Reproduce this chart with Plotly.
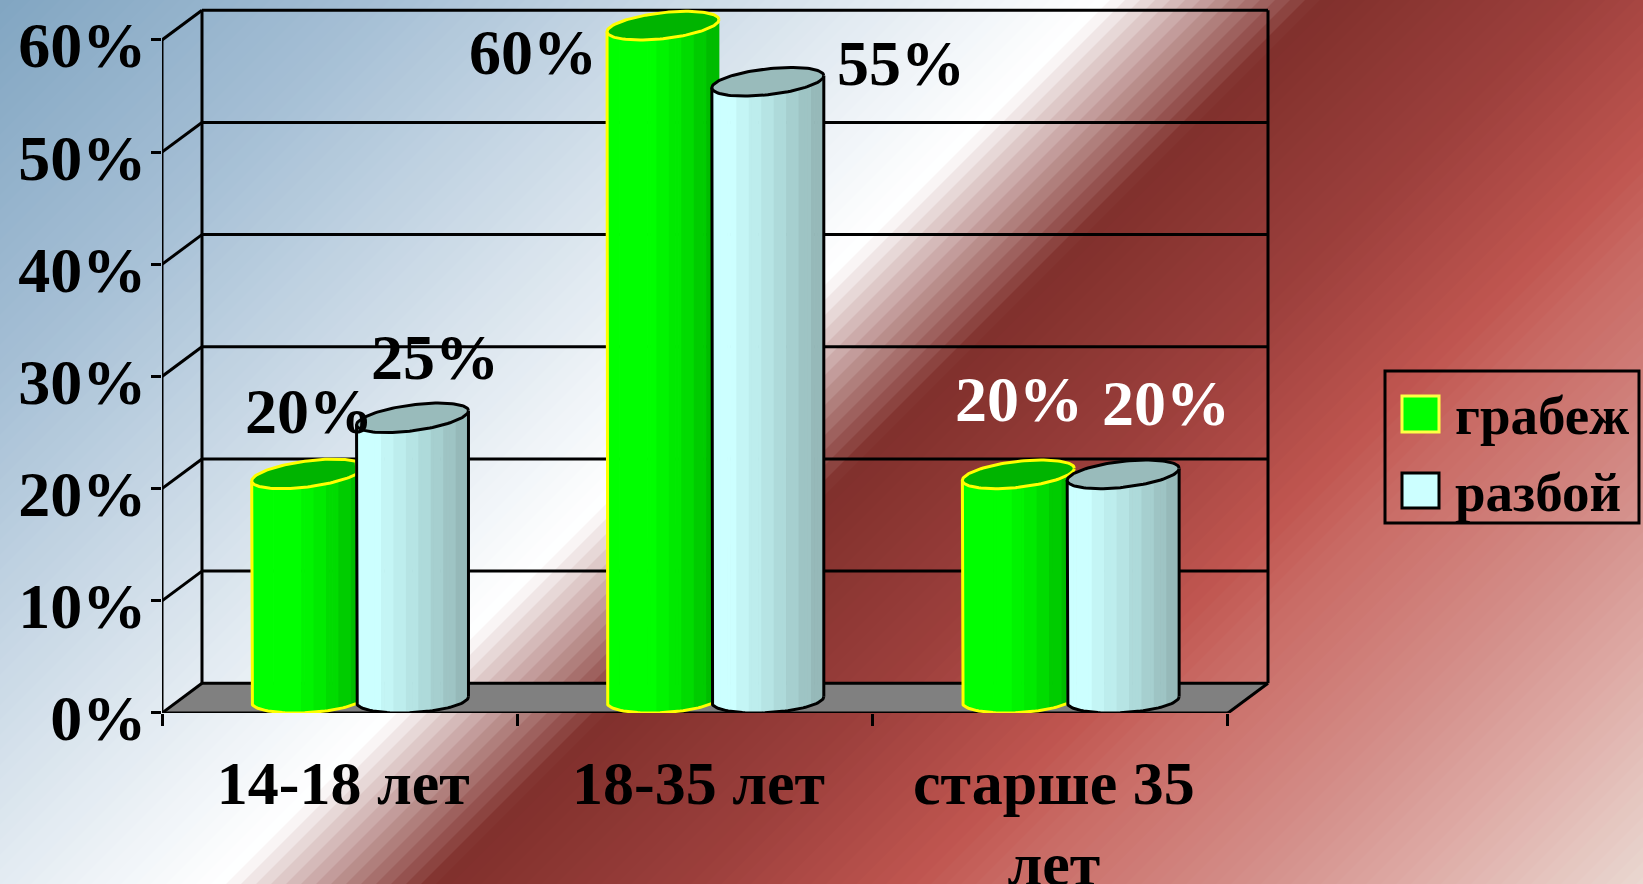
import math
import plotly.graph_objects as go

# ---------- data ----------
categories = ["14-18 лет", "18-35 лет", "старше 35<br>лет"]
robbery = [20, 60, 20]
assault = [25, 55, 20]
series_names = ["грабеж", "разбой"]
y_ticks = [0, 10, 20, 30, 40, 50, 60]
y_tick_labels = ["0%", "10%", "20%", "30%", "40%", "50%", "60%"]

# ---------- style ----------
W, H = 1643, 884
X0, Y0 = 162.0, 713.0        # pixel position of the origin of the front axes
SX, SY = 355.33, 11.217      # pixels per category / per percent
DX, DY = 40 / SX, 2.65       # depth of the 3-D box in axis units
XMAX, YMAX = 3 + DX + 0.02, 60 + DY + 0.4
FONT = "Liberation Serif"
BW = 0.315
OFFS = [0.41, 0.705]
SLANT_PX = [7, 6, 6]
BOTTOM_SLANT_PX = 3
B_PX = 13
LW = 3
GREEN_SHADES = ["#00ff00", "#00ff00", "#00ff00", "#00ff00", "#00f400", "#00ea00", "#00dc00", "#00cc00", "#00bc00"]
CYAN_SHADES = ["#ccffff", "#ccffff", "#c4f5f5", "#bdeded", "#b6e4e4", "#aedada", "#a6cfcf", "#9ec4c4", "#96b9b9"]
TOPS = ["#00b400", "#99bbbb"]
EDGES = ["#ffff00", "#000000"]
LABEL_SHIFTS = [[(1, 77), (22, 75)], [(-130, -13), (133, 33)], [(1, 89), (43, 85)]]
LABEL_COLORS = [["black", "black"], ["black", "black"], ["white", "white"]]
N_STRIPS = 36

BG_STOPS = [(0, "#82a6c2"), (370, "#a5bfd5"), (1100, "#ffffff"), (1310, "#80302c"), (1570, "#9c3f3c"),
            (1790, "#c05650"), (1880, "#c96a64"), (2124, "#d48f8a"), (2280, "#deaaa5"), (2527, "#ead9d2")]


def hex2rgb(h):
    return tuple(int(h[i:i + 2], 16) for i in (1, 3, 5))


def bg_color(s):
    for (s0, c0), (s1, c1) in zip(BG_STOPS, BG_STOPS[1:]):
        if s <= s1:
            t = (s - s0) / (s1 - s0)
            a, b = hex2rgb(c0), hex2rgb(c1)
            return "rgb(%d,%d,%d)" % tuple(round(a[i] + (b[i] - a[i]) * t) for i in range(3))
    return BG_STOPS[-1][1]


def pap(px, py):
    return px / W, 1 - py / H


shapes = []
# diagonal banded page background, painted back to front
s = 0
while s < W + H:
    p = [pap(s, 0), pap(W + H + 50, 0), pap(W + H + 50 - H, H), pap(s - H, H)]
    path = "M" + " L".join(f"{a:.5f},{b:.5f}" for a, b in p) + " Z"
    shapes.append(dict(type="path", path=path, xref="paper", yref="paper", layer="below",
                       fillcolor=bg_color(s), line_width=0))
    s += 15


def dline(x0, y0, x1, y1, w=LW):
    shapes.append(dict(type="line", xref="x", yref="y", x0=x0, y0=y0, x1=x1, y1=y1, layer="below",
                       line=dict(color="black", width=w)))


# floor
shapes.append(dict(type="path", xref="x", yref="y", layer="below", fillcolor="#808080", line_width=0,
                   path=f"M0,0 L3,0 L{3 + DX},{DY} L{DX},{DY} Z"))
# walls and grid
for v in y_ticks:
    dline(0, v, DX, v + DY)
    dline(DX, v + DY, 3 + DX, v + DY)
dline(DX, DY, DX, 60 + DY)
dline(3 + DX, DY, 3 + DX, 60 + DY)
dline(3, 0, 3 + DX, DY)
dline(0, 0, 0, 60)
dline(0, 0, 3, 0)

fig = go.Figure()

all_values = [robbery, assault]
b = B_PX / SY
bs = BOTTOM_SLANT_PX / SY
lift_b = math.hypot(bs, b)
a_units = BW / 2
for k, values in enumerate(all_values):
    xs, bases, heights, colors = [], [], [], []
    shades = GREEN_SHADES if k == 0 else CYAN_SHADES
    for c, v in enumerate(values):
        cx = c + OFFS[k]
        slant = SLANT_PX[c] / SY
        lift = math.hypot(slant, b)
        for i in range(N_STRIPS):
            u = -1 + (2 * i + 1) / N_STRIPS
            root = b * math.sqrt(1 - u * u)
            base = lift_b + bs * u - root
            top = v + lift + slant * u - root
            xs.append(cx + u * a_units)
            bases.append(base)
            heights.append(top - base)
            colors.append(shades[min(int((u + 1) / 2 * len(shades)), len(shades) - 1)])
    fig.add_trace(go.Bar(x=xs, y=heights, base=bases, width=BW / N_STRIPS * 1.25, name=series_names[k],
                         marker=dict(color=colors, line_width=0), showlegend=False, hoverinfo="skip"))

for k, values in enumerate(all_values):
    for c, v in enumerate(values):
        cx = c + OFFS[k]
        slant = SLANT_PX[c] / SY
        lift = math.hypot(slant, b)
        # x beyond which the rear (green) cylinder is hidden by the front one
        limit = c + OFFS[1] - a_units if k == 0 else 99
        # body silhouette: left side, lower arc, right side
        tx, ty = [cx - a_units], [v + lift - slant]
        for j in range(61):
            t = math.pi + math.pi * j / 60
            px_ = cx + a_units * math.cos(t)
            if px_ <= limit:
                tx.append(px_)
                ty.append(lift_b + b * math.sin(t) + bs * math.cos(t))
        fig.add_trace(go.Scatter(x=tx, y=ty, mode="lines", line=dict(color=EDGES[k], width=LW),
                                 showlegend=False, hoverinfo="skip"))
        # right side: all of it for the front cylinder, only the part above the front one for the rear
        if k == 1:
            rx, ry = [cx + a_units, cx + a_units], [lift_b + bs, v + lift + slant]
        elif v > values[c] and v > assault[c]:
            rx, ry = [cx + a_units, cx + a_units], [assault[c] + lift, v + lift + slant]
        else:
            rx, ry = [], []
        if rx:
            fig.add_trace(go.Scatter(x=rx, y=ry, mode="lines", line=dict(color=EDGES[k], width=LW),
                                     showlegend=False, hoverinfo="skip"))
        elif k == 0 and v > assault[c] - 1e-9 and False:
            pass
        # top ellipse
        clamp = limit if (k == 0 and v < assault[c]) else 99
        ex, ey = [], []
        for j in range(121):
            t = 2 * math.pi * j / 120
            ex.append(min(cx + a_units * math.cos(t), clamp))
            ey.append(v + lift + b * math.sin(t) + slant * math.cos(t))
        fig.add_trace(go.Scatter(x=ex, y=ey, mode="lines", fill="toself", fillcolor=TOPS[k],
                                 line=dict(color=EDGES[k], width=LW), showlegend=False, hoverinfo="skip"))

annotations = []
for c in range(3):
    for k, values in enumerate(all_values):
        dx_, dy_ = LABEL_SHIFTS[c][k]
        annotations.append(dict(x=c + OFFS[k], y=values[c], xref="x", yref="y", text=f"{values[c]}%",
                                showarrow=False, xshift=dx_, yshift=dy_, xanchor="center", yanchor="middle",
                                font=dict(family=FONT, size=64, color=LABEL_COLORS[c][k], weight=700)))

# legend
x0, y0 = pap(1385, 371)
x1, y1 = pap(1639, 523)
shapes.append(dict(type="rect", xref="paper", yref="paper", x0=x0, y0=y0, x1=x1, y1=y1,
                   line=dict(color="black", width=LW), layer="above"))
for k, (top, bot) in enumerate([(396, 432), (473, 508)]):
    x0, y0 = pap(1402, top)
    x1, y1 = pap(1439, bot)
    shapes.append(dict(type="rect", xref="paper", yref="paper", x0=x0, y0=y0, x1=x1, y1=y1, layer="above",
                       fillcolor=["#00ff00", "#ccffff"][k], line=dict(color=EDGES[k] if k else "#ffff44", width=LW)))
    lx, ly = pap(1453, (top + bot) / 2 + 1.5)
    annotations.append(dict(x=lx, y=ly, xref="paper", yref="paper", text=series_names[k], showarrow=False,
                            xanchor="left", yanchor="middle",
                            font=dict(family=FONT, size=55, color="black", weight=700)))

fig.update_layout(
    width=W, height=H, margin=dict(l=0, r=0, t=0, b=0, pad=0), autosize=False,
    paper_bgcolor="rgba(0,0,0,0)", plot_bgcolor="rgba(0,0,0,0)",
    barmode="overlay", showlegend=False, shapes=shapes, annotations=annotations,
    xaxis=dict(range=[0, XMAX], domain=[X0 / W, (X0 + XMAX * SX) / W], showgrid=False, zeroline=False, showline=False,
               automargin=False, ticklabeloverflow="allow",
               tickmode="array", tickvals=[i + 0.51 for i in range(3)], ticktext=categories, ticks="", ticklen=0,
               tickfont=dict(family=FONT, size=62, color="black", weight=700), ticklabelstandoff=28,
               minor=dict(tickmode="array", tickvals=[0, 1, 2, 3], ticks="outside", ticklen=12, tickwidth=LW,
                          tickcolor="black", showgrid=False)),
    yaxis=dict(range=[0, YMAX], domain=[(H - Y0) / H, (H - Y0 + YMAX * SY) / H], showgrid=False, zeroline=False,
               automargin=False, ticklabeloverflow="allow",
               showline=False, tickmode="array", tickvals=y_ticks, ticktext=y_tick_labels, ticks="outside",
               ticklen=10, tickwidth=LW, tickcolor="black", ticklabelstandoff=-8, ticklabelshift=5,
               tickfont=dict(family=FONT, size=64, color="black", weight=700)),
)

fig.write_html("out.html", config={"displayModeBar": False},
               post_script="document.body.style.margin='0';document.documentElement.style.overflow='hidden';")
